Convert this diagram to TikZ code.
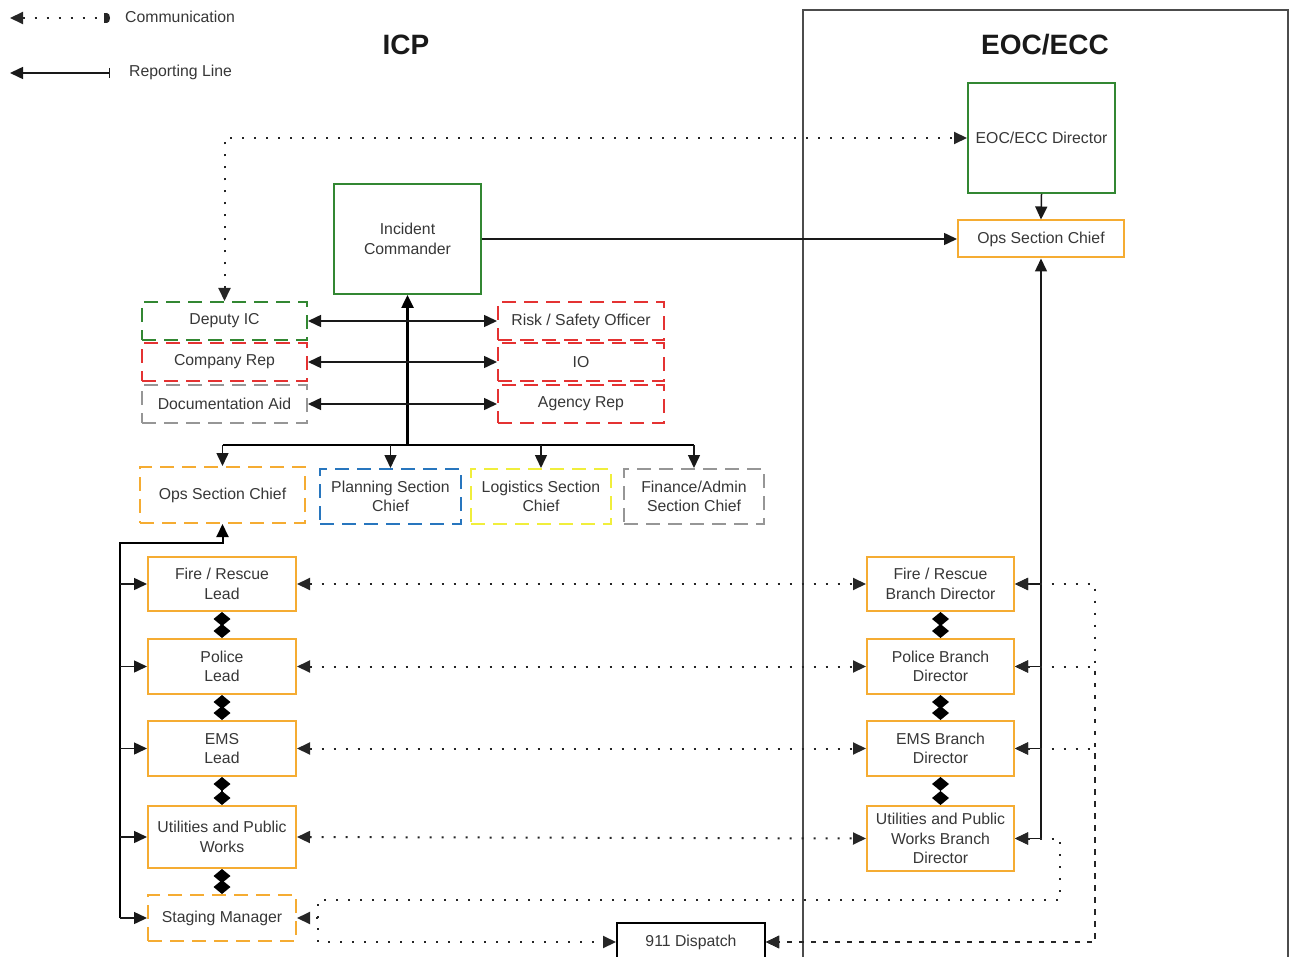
\documentclass[tikz,border=0pt]{standalone}
\usepackage{fontspec}
\setmainfont{Liberation Sans}
\usetikzlibrary{arrows.meta}
\definecolor{cgreen}{RGB}{50,135,50}
\definecolor{corange}{RGB}{245,172,50}
\definecolor{cred}{RGB}{228,50,50}
\definecolor{cblue}{RGB}{40,118,190}
\definecolor{cyellow}{RGB}{240,238,60}
\definecolor{cgray}{RGB}{150,150,150}
\definecolor{txt}{RGB}{55,55,55}
\tikzset{
  >={Triangle[length=13pt,width=12pt]},
  box/.style={draw,line width=2pt,align=center,inner sep=2pt,text=txt,
    font=\fontsize{15.8}{19.5}\selectfont},
  dbox/.style={box,dash pattern=on 14pt off 8pt},
  comm/.style={line width=2pt,dash pattern=on 2pt off 10pt,color=black!85},
  rep/.style={line width=1.5pt,color=black!90},
  dia/.style={line width=1.5pt,{Diamond[length=14pt,width=17pt]}-{Diamond[length=14pt,width=17pt]}},
  lbl/.style={text=txt,font=\fontsize{15.8}{19.5}\selectfont,anchor=west,inner sep=0pt},
  ttl/.style={font=\bfseries\fontsize{28}{32}\selectfont,text=black!90}
}
\begin{document}
\begin{tikzpicture}[x=1pt,y=-1pt]
\useasboundingbox (0,0) rectangle (1289,957);

% frame of EOC/ECC
\draw[line width=1.5pt,black!70] (803,962) -- (803,10) -- (1288,10) -- (1288,962);

% titles
\node[ttl] (ticp) at (406,45) {ICP};
\node[ttl] (teoc) at (1045,45) {EOC/ECC};

% legend
\coordinate (lg1) at (10,18);
\coordinate (lg2) at (104,18);
\coordinate (lg3) at (10,73);
\coordinate (lg4) at (110,73);
\draw[comm,<-] (lg1) -- (lg2);
\fill[black!85] (104,13) rectangle (107,23);
\fill[black!85] (107,18) ellipse [x radius=3pt,y radius=5pt];
\draw[rep,{Triangle[length=13pt,width=12pt]}-{Bar[width=10pt]}] (lg3) -- (lg4);
\node[lbl] (lgt1) at (125,17) {Communication};
\node[lbl] (lgt2) at (129,72) {Reporting Line};

% ICP nodes
\node[box,draw=cgreen,minimum width=147pt,minimum height=110pt] (ic) at (407.5,239) {Incident\\Commander};
\node[dbox,draw=cgreen,minimum width=165pt,minimum height=38pt] (dep) at (224.5,321) {Deputy IC};
\node[dbox,draw=cred,minimum width=165pt,minimum height=38pt] (comp) at (224.5,362) {Company Rep};
\node[dbox,draw=cgray,minimum width=165pt,minimum height=38pt] (doc) at (224.5,404) {Documentation Aid};
\node[dbox,draw=cred,minimum width=166pt,minimum height=38pt] (risk) at (581,321) {Risk / Safety Officer};
\node[dbox,draw=cred,minimum width=166pt,minimum height=38pt] (io) at (581,362) {IO};
\node[dbox,draw=cred,minimum width=166pt,minimum height=38pt] (agr) at (581,404) {Agency Rep};

\node[dbox,draw=corange,minimum width=165pt,minimum height=56pt] (opsL) at (222.5,495) {Ops Section Chief};
\node[dbox,draw=cblue,minimum width=141pt,minimum height=55pt] (plan) at (390.5,496.5) {Planning Section\\Chief};
\node[dbox,draw=cyellow,minimum width=140pt,minimum height=55pt] (logi) at (541,496.5) {Logistics Section\\Chief};
\node[dbox,draw=cgray,minimum width=140pt,minimum height=55pt] (fin) at (694,496.5) {Finance/Admin\\Section Chief};

\node[box,draw=corange,minimum width=148pt,minimum height=54pt] (fireL) at (222,584) {Fire / Rescue\\Lead};
\node[box,draw=corange,minimum width=148pt,minimum height=55pt] (polL) at (222,666.5) {Police\\Lead};
\node[box,draw=corange,minimum width=148pt,minimum height=55pt] (emsL) at (222,748.5) {EMS\\Lead};
\node[box,draw=corange,minimum width=148pt,minimum height=62pt] (upwL) at (222,837) {Utilities and Public\\Works};
\node[dbox,draw=corange,minimum width=148pt,minimum height=46pt] (stag) at (222,918) {Staging Manager};

% EOC nodes
\node[box,draw=cgreen,minimum width=147pt,minimum height=110pt] (eocd) at (1041.5,138) {EOC/ECC Director};
\node[box,draw=corange,minimum width=166pt,minimum height=37pt] (opsE) at (1041,239) {Ops Section Chief};
\node[box,draw=corange,minimum width=147pt,minimum height=54pt] (fireD) at (940.5,584) {Fire / Rescue\\Branch Director};
\node[box,draw=corange,minimum width=147pt,minimum height=55pt] (polD) at (940.5,666.5) {Police Branch\\Director};
\node[box,draw=corange,minimum width=147pt,minimum height=55pt] (emsD) at (940.5,748.5) {EMS Branch\\Director};
\node[box,draw=corange,minimum width=147pt,minimum height=65pt] (upwD) at (940.5,838.5) {Utilities and Public\\Works Branch\\Director};

\node[box,draw=black,minimum width=148pt,minimum height=38pt] (d911) at (691,942) {911 Dispatch};

% IC reporting structure
\coordinate (hub) at (407.5,445);
\draw[line width=2.5pt,->] (hub) -- (ic.south);
\draw[line width=2pt] (opsL.north |- hub) -- (fin.north |- hub);
\foreach \n in {opsL,plan,logi,fin}
  \draw[rep,->] (\n.north |- hub) -- (\n.north);
\draw[rep,<->] (dep.east) -- (risk.west);
\draw[rep,<->] (comp.east) -- (io.west);
\draw[rep,<->] (doc.east) -- (agr.west);

\draw[rep,->] (ic.east) -- (opsE.west);
\draw[rep,->] (eocd.south) -- (opsE.north);

% communication IC deputy <-> EOC director
\draw[comm,<->] (dep.north) |- (eocd.west);

% left reporting column
\coordinate (lx) at (120,543);
\draw[line width=2pt,->] (lx |- stag.west) -- (lx) -| (opsL.south);
\foreach \n in {fireL,polL,emsL,upwL,stag}
  \draw[rep,->] (lx |- \n.west) -- (\n.west);

% diamonds
\draw[dia] (fireL.south) -- (polL.north);
\draw[dia] (polL.south) -- (emsL.north);
\draw[dia] (emsL.south) -- (upwL.north);
\draw[dia] (upwL.south) -- (stag.north);
\draw[dia] (fireD.south) -- (polD.north);
\draw[dia] (polD.south) -- (emsD.north);
\draw[dia] (emsD.south) -- (upwD.north);

% horizontal communication
\draw[comm,<->] (fireL.east) -- (fireD.west);
\draw[comm,<->] (polL.east) -- (polD.west);
\draw[comm,<->] (emsL.east) -- (emsD.west);
\draw[comm,<->] (upwL.east) -- (upwD.west);

% right reporting column
\draw[rep,->] (upwD.east -| opsE.south) -- (opsE.south);
\foreach \n in {fireD,polD,emsD,upwD}
  \draw[rep,->] (\n.east -| opsE.south) -- (\n.east);

% communication to 911 dispatch
\coordinate (rx) at (1095,942);
\foreach \n in {fireD,polD,emsD}
  \draw[comm,<->] (\n.east) -- (\n.east -| rx) -- (rx) -- (d911.east);
\coordinate (c1) at (1060,900);
\coordinate (c2) at (318,900);
\coordinate (c3) at (318,942);
\draw[comm,<->] (upwD.east) -| (c1) -- (c2) -- (c3) -- (d911.west);
\draw[comm,->] (c2 |- stag.east) -- (stag.east);
\end{tikzpicture}
\end{document}
